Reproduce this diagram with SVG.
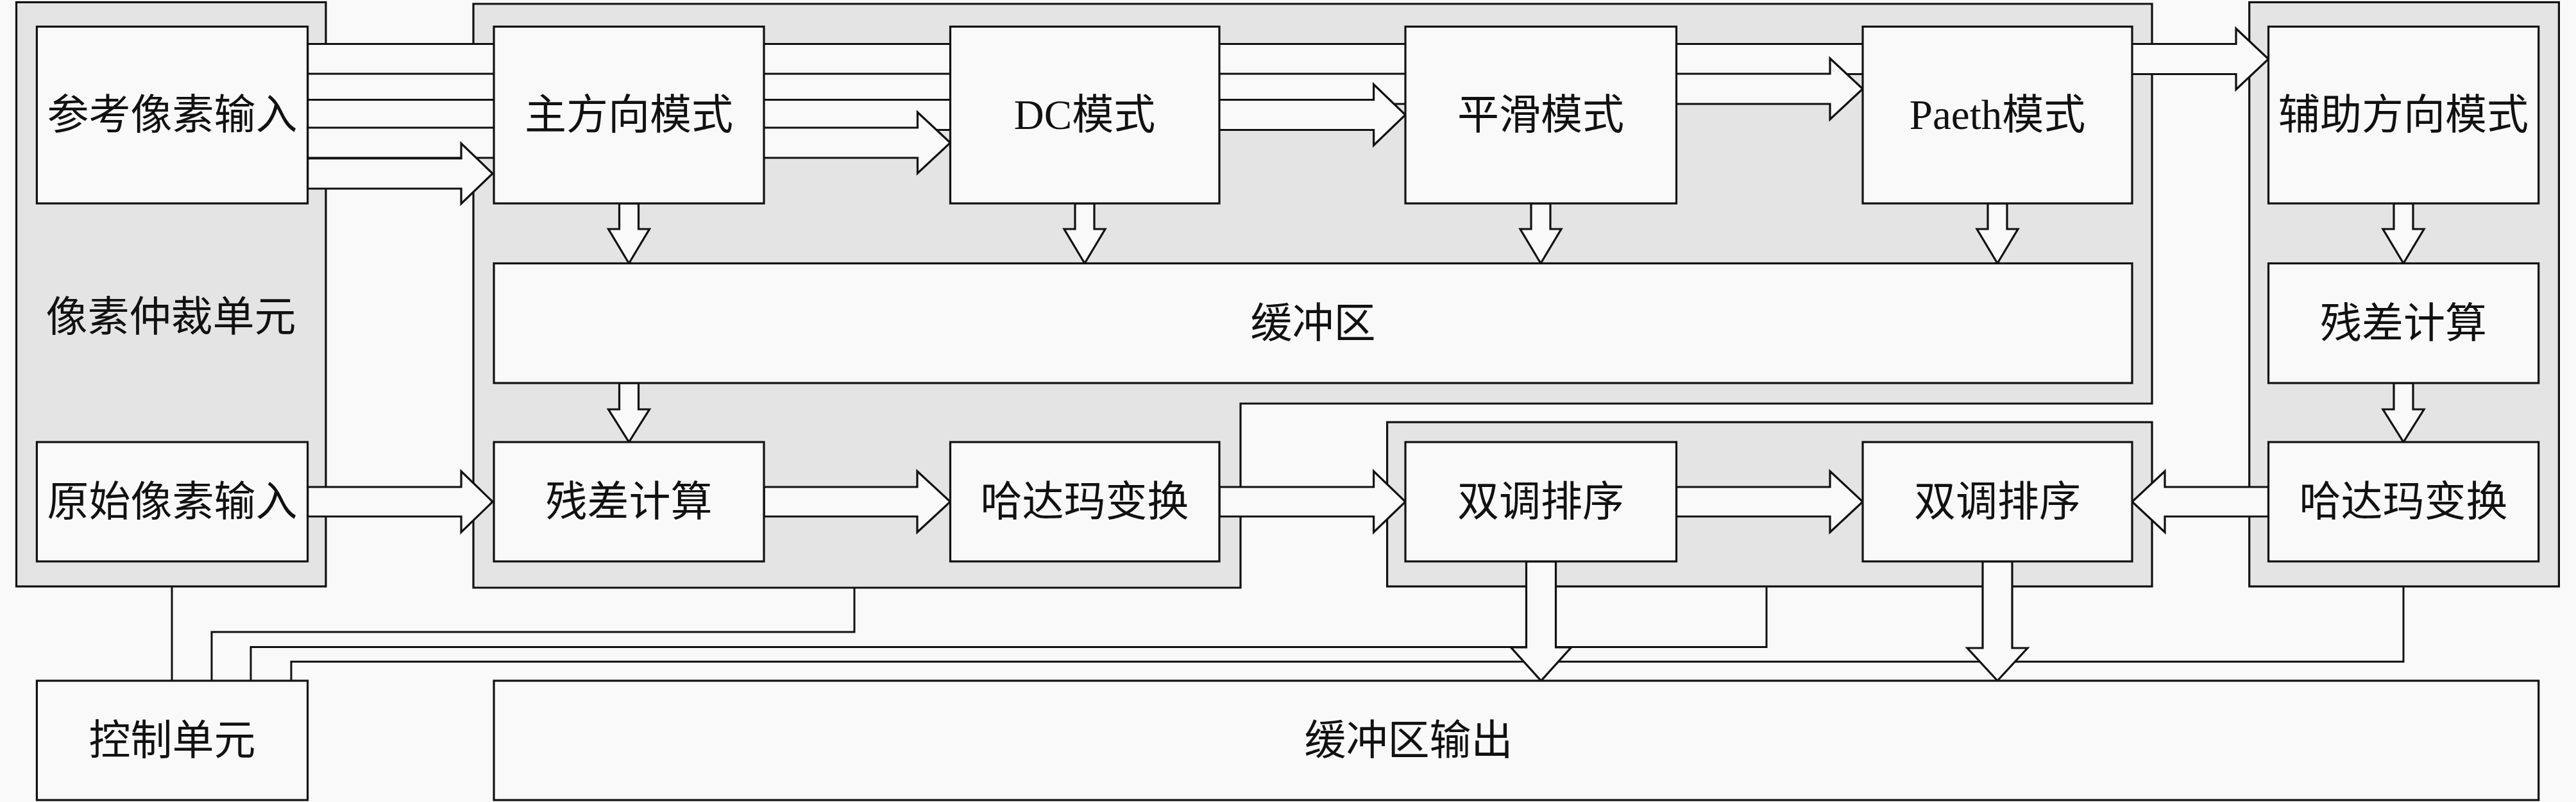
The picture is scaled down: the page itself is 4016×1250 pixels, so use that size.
<svg xmlns="http://www.w3.org/2000/svg" width="4016" height="1250" viewBox="0 0 4016 1250">
<style>
.bg{fill:#f9f9f9}
.grp{fill:#e4e4e4;stroke:#111;stroke-width:3.2}
.box{fill:#f9f9f9;stroke:#111;stroke-width:3.2}
.arr{fill:#f9f9f9;stroke:#111;stroke-width:3.2;stroke-linejoin:miter}
.ln{fill:none;stroke:#111;stroke-width:3}
text{font-family:"Liberation Serif","Noto Sans CJK SC",serif;font-size:65px;fill:#111;text-anchor:middle;dominant-baseline:central}
</style>
<rect class="bg" x="0" y="0" width="4016" height="1250"/>
<g id="containers">
<g id="arbiter"><rect class="grp" x="25.5" y="3.5" width="482.5" height="910.5"/><text x="266.5" y="494">像素仲裁单元</text></g>
<g id="main-unit"><polygon class="grp" points="738,6 3355,6 3355,629 1934,629 1934,916 738,916"/></g>
<g id="sort-unit"><rect class="grp" x="2162.6" y="658" width="1192.4" height="256"/></g>
<g id="aux-unit"><rect class="grp" x="3506.7" y="3.5" width="482.7" height="910.5"/></g>
</g>
<g id="connectors">
<polyline class="ln" points="268,914 268,1061"/>
<polyline class="ln" points="330,1061 330,985 1332,985 1332,916"/>
<polyline class="ln" points="391,1061 391,1008.4 2754,1008.4 2754,914"/>
<polyline class="ln" points="454,1061 454,1031.2 3747,1031.2 3747,914"/>
<polygon class="arr" points="479.6,68.5 3486,68.5 3486,44.5 3536.5,92 3486,139.5 3486,115.5 479.6,115.5"/>
<polygon class="arr" points="479.6,115 2853,115 2853,91 2904,138.5 2853,186 2853,162 479.6,162"/>
<polygon class="arr" points="479.6,155.5 2141.6,155.5 2141.6,131.5 2191,179 2141.6,226.5 2141.6,202.5 479.6,202.5"/>
<polygon class="arr" points="479.6,199 1430.5,199 1430.5,175 1481.5,222.5 1430.5,270 1430.5,246 479.6,246"/>
<polygon class="arr" points="479.6,247 719,247 719,223.5 768,270.5 719,317.5 719,294 479.6,294"/>
<polygon class="arr" points="479.6,759 719,759 719,734.5 768,782 719,829.5 719,805 479.6,805"/>
<polygon class="arr" points="1191,759 1430,759 1430,734.5 1481.5,782 1430,829.5 1430,805 1191,805"/>
<polygon class="arr" points="1901,759 2141.6,759 2141.6,734.5 2191,782 2141.6,829.5 2141.6,805 1901,805"/>
<polygon class="arr" points="2613.5,759 2853,759 2853,734.5 2904,782 2853,829.5 2853,805 2613.5,805"/>
<polygon class="arr" points="3536.5,759 3375,759 3375,734.5 3324,782 3375,829.5 3375,805 3536.5,805"/>
<polygon class="arr" points="965.5,317 995.5,317 995.5,357 1012.5,357 980.5,410.5 948.5,357 965.5,357"/>
<polygon class="arr" points="1676,317 1706,317 1706,357 1723,357 1691,410.5 1659,357 1676,357"/>
<polygon class="arr" points="2387,317 2417,317 2417,357 2434,357 2402,410.5 2370,357 2387,357"/>
<polygon class="arr" points="3099,317 3129,317 3129,357 3146,357 3114,410.5 3082,357 3099,357"/>
<polygon class="arr" points="3732,317 3762,317 3762,357 3779,357 3747,410.5 3715,357 3732,357"/>
<polygon class="arr" points="965.5,597 995.5,597 995.5,638 1012.5,638 980.5,689 948.5,638 965.5,638"/>
<polygon class="arr" points="3732,597 3762,597 3762,638 3779,638 3747,689 3715,638 3732,638"/>
<polygon class="arr" points="2379.5,875 2425.5,875 2425.5,1009 2449.5,1009 2402.5,1061 2355.5,1009 2379.5,1009"/>
<polygon class="arr" points="3091,875 3137,875 3137,1010 3161,1010 3114,1061 3067,1010 3091,1010"/>
</g>
<g id="ref-input"><rect class="box" x="57.4" y="41.5" width="422.2" height="275.5"/><text x="268.5" y="179">参考像素输入</text></g>
<g id="orig-input"><rect class="box" x="57.4" y="689" width="422.2" height="186"/><text x="268.5" y="782">原始像素输入</text></g>
<g id="control"><rect class="box" x="57.4" y="1061" width="422.2" height="186"/><text x="268.5" y="1154">控制单元</text></g>
<g id="main-dir"><rect class="box" x="770" y="41.5" width="421" height="275.5"/><text x="980.5" y="179">主方向模式</text></g>
<g id="dc"><rect class="box" x="1481.5" y="41.5" width="419.5" height="275.5"/><text x="1691" y="179">DC模式</text></g>
<g id="smooth"><rect class="box" x="2191" y="41.5" width="422.5" height="275.5"/><text x="2402" y="179">平滑模式</text></g>
<g id="paeth"><rect class="box" x="2904" y="41.5" width="420" height="275.5"/><text x="3114" y="179">Paeth模式</text></g>
<g id="aux-dir"><rect class="box" x="3536.5" y="41.5" width="421.2" height="275.5"/><text x="3747" y="179">辅助方向模式</text></g>
<g id="buffer"><rect class="box" x="770" y="410.5" width="2554" height="186.5"/><text x="2047" y="504">缓冲区</text></g>
<g id="resid-aux"><rect class="box" x="3536.5" y="410.5" width="421.2" height="186.5"/><text x="3747" y="504">残差计算</text></g>
<g id="resid"><rect class="box" x="770" y="689" width="421" height="186"/><text x="980.5" y="782">残差计算</text></g>
<g id="hadamard"><rect class="box" x="1481.5" y="689" width="419.5" height="186"/><text x="1691" y="782">哈达玛变换</text></g>
<g id="bitonic1"><rect class="box" x="2191" y="689" width="422.5" height="186"/><text x="2402" y="782">双调排序</text></g>
<g id="bitonic2"><rect class="box" x="2904" y="689" width="420" height="186"/><text x="3114" y="782">双调排序</text></g>
<g id="hadamard-aux"><rect class="box" x="3536.5" y="689" width="421.2" height="186"/><text x="3747" y="782">哈达玛变换</text></g>
<g id="buffer-out"><rect class="box" x="770" y="1061" width="3187.7" height="186"/><text x="2196" y="1154">缓冲区输出</text></g>
</svg>
